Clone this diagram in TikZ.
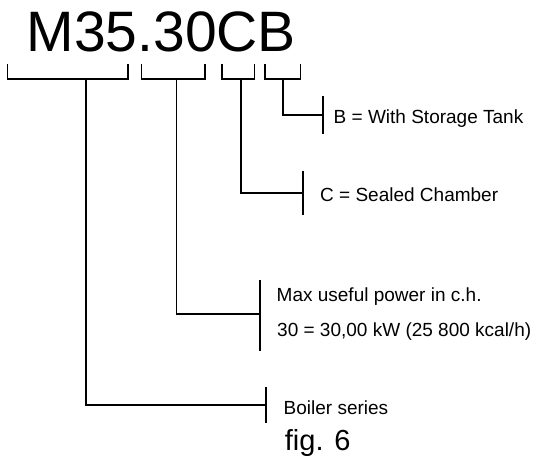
\documentclass[tikz,border=0pt]{standalone}
\usepackage{fontspec}
\setmainfont{Liberation Sans}
\begin{document}
\begin{tikzpicture}[x=1pt,y=-1pt,
  conn/.style={draw, line width=1.4pt, line cap=rect},
  lbl/.style={anchor=base west, inner sep=0pt, font=\fontsize{19}{19}\selectfont},
  bigcode/.style={anchor=base west, inner sep=0pt, font=\fontsize{57}{57}\selectfont},
  figlbl/.style={anchor=base west, inner sep=0pt, font=\fontsize{29}{29}\selectfont}]
\useasboundingbox (0,0) rectangle (538,457);
\node[bigcode] (code) at (26.5,51.7) {M35.30CB};
% bracket corners
\coordinate (b1l) at (7.5,65);   \coordinate (b1r) at (128,65);
\coordinate (b2l) at (141.7,65); \coordinate (b2r) at (205,65);
\coordinate (b3l) at (222,65);   \coordinate (b3r) at (254.5,65);
\coordinate (b4l) at (265,65);   \coordinate (b4r) at (300.5,65);
% tick marks
\coordinate (t4a) at (323,97);  \coordinate (t4b) at (323,133);
\coordinate (t3a) at (303,172); \coordinate (t3b) at (303,214);
\coordinate (t2a) at (260,281); \coordinate (t2b) at (260,350);
\coordinate (t1a) at (266,388); \coordinate (t1b) at (266,422);
% brackets
\draw[conn] (b1l) -- ++(0,14) -| (b1r);
\draw[conn] (b2l) -- ++(0,14) -| (b2r);
\draw[conn] (b3l) -- ++(0,14) -| (b3r);
\draw[conn] (b4l) -- ++(0,14) -| (b4r);
% ticks
\draw[conn] (t4a) -- (t4b);
\draw[conn] (t3a) -- (t3b);
\draw[conn] (t2a) -- (t2b);
\draw[conn] (t1a) -- (t1b);
% drops
\draw[conn] (283,79) |- (323,115);
\draw[conn] (241,79) |- (303,193);
\draw[conn] (176.5,79) |- (260,314);
\draw[conn] (86,79) |- (266,405);
% labels
\node[lbl] (lb) at (333.5,123.3) {B = With Storage Tank};
\node[lbl] (lc) at (320,201.5) {C = Sealed Chamber};
\node[lbl] (lm1) at (276.5,301.7) {Max useful power in c.h.};
\node[lbl] (lm2) at (277,336) {30 = 30,00 kW (25 800 kcal/h)};
\node[lbl] (ls) at (283.5,414) {Boiler series};
\node[figlbl] (fig) at (284.7,450) {fig. 6};
\end{tikzpicture}
\end{document}
